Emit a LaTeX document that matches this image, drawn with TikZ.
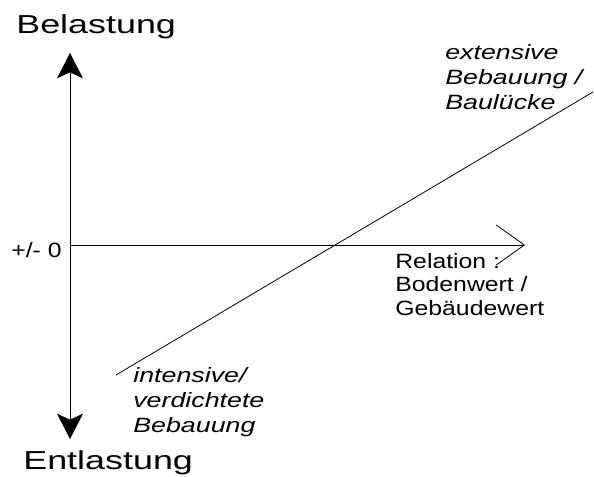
\documentclass[tikz,border=0pt]{standalone}
\usepackage{fontspec}
\setmainfont{Liberation Sans}
\usetikzlibrary{arrows.meta}
\tikzset{
  axisline/.style={draw=black,line width=0.65pt},
  thinline/.style={draw=black,line width=0.6pt},
  titlelabel/.style={font=\fontsize{19.5}{23}\selectfont,inner sep=0pt,xscale=1.38},
  plainlabel/.style={font=\fontsize{15.5}{17.6}\selectfont,inner sep=0pt,align=left,xscale=1.2},
  slantlabel/.style={plainlabel,xscale=1.08,font=\fontsize{15.5}{18.4}\selectfont\itshape},
}
\begin{document}
\begin{tikzpicture}[x=0.75pt,y=-0.75pt]
    \useasboundingbox (0,0) rectangle (594,476);
    \coordinate (top) at (70,53);
    \coordinate (bottom) at (70,439);
    \coordinate (origin) at (70,245);
    \coordinate (xend) at (525,245);
    \coordinate (low) at (116,375);
    \coordinate (high) at (593,92);
    % axes
    \draw[axisline,{Stealth[length=19pt,width=19.5pt,inset=4.5pt]}-{Stealth[length=19pt,width=19.5pt,inset=4.5pt]}] (top) -- (bottom);
    \draw[thinline,-{Straight Barb[length=21pt,width=30pt]}] (origin) -- (xend);
    \draw[thinline] (low) -- (high);
    % labels (anchored at the baseline of their last line)
    \node[titlelabel,anchor=base west] (belastung) at (16,33) {Belastung};
    \node[titlelabel,anchor=base west] (entlastung) at (23,469) {Entlastung};
    \node[plainlabel,anchor=base east] (zero) at (62,257) {+/- 0};
    \node[plainlabel,anchor=base west] (relation) at (395,315) {Relation :\\Bodenwert /\\Gebäudewert};
    \node[slantlabel,anchor=base west] (extensive) at (445,109) {extensive\\Bebauung /\\Baulücke};
    \node[slantlabel,anchor=base west] (intensive) at (133,432) {intensive/\\verdichtete\\Bebauung};
\end{tikzpicture}
\end{document}
